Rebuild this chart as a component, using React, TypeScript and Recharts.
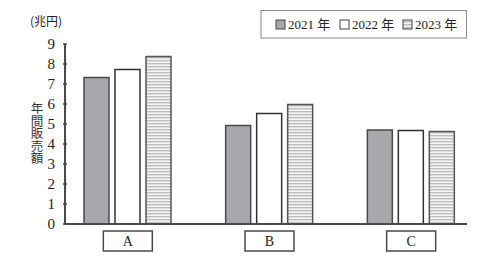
import React from 'react';
import { BarChart, Bar, XAxis, YAxis } from 'recharts';

const categories = ['A', 'B', 'C'];
const series2021 = [7.32, 4.93, 4.7];
const series2022 = [7.73, 5.53, 4.68];
const series2023 = [8.37, 5.98, 4.63];
const yTicks = [0, 1, 2, 3, 4, 5, 6, 7, 8, 9];
const seriesNames = ['2021 年', '2022 年', '2023 年'];
const yUnit = '(兆円)';
const yLabel = '年間販売額';

const data = categories.map((c, i) => ({
  name: c,
  y2021: series2021[i],
  y2022: series2022[i],
  y2023: series2023[i],
}));

const FONT = "'Liberation Serif', 'DejaVu Serif', 'Noto Sans CJK JP', serif";
const AXIS = '#4a4a4a';

const YTick = (props: any) => {
  const { x, y, payload } = props;
  return (
    <g>
      <line x1={x} x2={x + 4} y1={y} y2={y} stroke={AXIS} strokeWidth={1.5} />
      <text x={x - 8} y={y + 5} textAnchor="end" fontFamily={FONT} fontSize={15} fill="#222">
        {payload.value}
      </text>
    </g>
  );
};

const XTick = (props: any) => {
  const { x, y, payload } = props;
  return (
    <g>
      <rect x={x - 24.5} y={y + 5} width={49} height={20} fill="#fff" stroke={AXIS} strokeWidth={1.5} />
      <text x={x} y={y + 20} textAnchor="middle" fontFamily={FONT} fontSize={14} fill="#222">
        {payload.value}
      </text>
    </g>
  );
};

const LegendSwatch = ({ kind, x, y }: { kind: number; x: number; y: number }) => {
  if (kind === 0) return <rect x={x} y={y} width={9} height={9} fill="#a7a8ac" stroke="#444" strokeWidth={1} />;
  if (kind === 1) return <rect x={x} y={y} width={9} height={9} fill="#fff" stroke="#444" strokeWidth={1} />;
  return <rect x={x} y={y} width={9} height={9} fill="url(#stripes)" stroke="#444" strokeWidth={1} />;
};

export default function App() {
  return (
    <div style={{ position: 'absolute', left: 0, top: 0, width: 488, height: 259, background: '#fff' }}>
      <BarChart
        width={488}
        height={259}
        data={data}
        margin={{ top: 44, right: 21, bottom: 0, left: 35 }}
        barSize={25}
        barGap={6}
      >
        <defs>
          <pattern id="stripes" patternUnits="userSpaceOnUse" width={6} height={3}>
            <rect x={0} y={0} width={6} height={3} fill="#f4f4f4" />
            <rect x={0} y={0} width={6} height={1.4} fill="#bdbdbd" />
          </pattern>
        </defs>
        <XAxis
          dataKey="name"
          height={35}
          tickSize={0}
          tickLine={false}
          axisLine={{ stroke: AXIS, strokeWidth: 2 }}
          tick={<XTick />}
          padding={{ left: -8, right: -15 }}
          interval={0}
        />
        <YAxis
          width={30}
          domain={[0, 9]}
          ticks={yTicks}
          tickSize={0}
          tickLine={false}
          axisLine={{ stroke: AXIS, strokeWidth: 2 }}
          tick={<YTick />}
          interval={0}
        />
        <Bar dataKey="y2021" fill="#a7a8ac" stroke="#4a4a4a" strokeWidth={1.5} isAnimationActive={false} />
        <Bar dataKey="y2022" fill="#ffffff" stroke="#333" strokeWidth={1.5} isAnimationActive={false} />
        <Bar dataKey="y2023" fill="url(#stripes)" stroke="#555" strokeWidth={1.5} isAnimationActive={false} />
        <text x={46} y={26} textAnchor="middle" fontFamily="'Noto Sans CJK JP', sans-serif" fontSize={12} fill="#222">
          {yUnit}
        </text>
        <text
          x={37}
          y={102}
          textAnchor="start"
          fontFamily="'Noto Sans CJK JP', sans-serif"
          fontSize={12.5}
          fill="#333"
          style={{ writingMode: 'vertical-rl' as any }}
        >
          {yLabel}
        </text>
        <g>
          <rect x={261} y={10.5} width={205.5} height={27.5} fill="#fff" stroke="#888" strokeWidth={1} />
          {seriesNames.map((n, i) => {
            const sx = [276, 340, 403][i];
            return (
              <g key={n}>
                <LegendSwatch kind={i} x={sx} y={20} />
                <text x={sx + 12} y={29} fontFamily={FONT} fontSize={13} fill="#222">
                  {n}
                </text>
              </g>
            );
          })}
        </g>
      </BarChart>
    </div>
  );
}
